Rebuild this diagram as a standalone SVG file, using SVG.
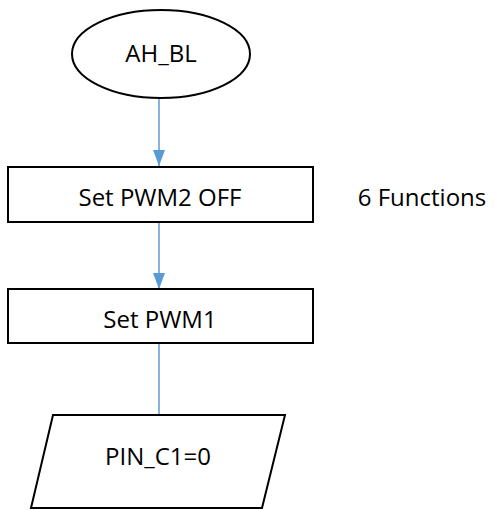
<svg xmlns="http://www.w3.org/2000/svg" width="495" height="510" viewBox="0 0 495 510">
<style>
.s{fill:#fff;stroke:#000;stroke-width:2}
.t{font-family:"Open Sans","Liberation Sans",sans-serif;font-size:24px;fill:#000;text-anchor:middle}
.c{stroke:#5B9BD5;stroke-width:1.5;fill:none}
</style>
<defs>
<marker id="ah" viewBox="0 0 16 12" refX="16" refY="6" markerWidth="16" markerHeight="12" markerUnits="userSpaceOnUse" orient="auto">
<path d="M0,0L16,6L0,12z" fill="#5B9BD5"/>
</marker>
</defs>
<g id="connectors">
<line class="c" x1="159" y1="98" x2="159" y2="166" marker-end="url(#ah)"/>
<line class="c" x1="159" y1="222" x2="159" y2="289" marker-end="url(#ah)"/>
<line class="c" x1="159" y1="343" x2="159" y2="415"/>
</g>
<g id="start">
<ellipse class="s" cx="161" cy="54" rx="89" ry="44"/>
<text class="t" x="161" y="62">AH_BL</text>
</g>
<g id="pwm2">
<rect class="s" x="8" y="167" width="305" height="55"/>
<text class="t" x="160" y="206">Set PWM2 OFF</text>
</g>
<g id="note">
<text class="t" x="422" y="206">6 Functions</text>
</g>
<g id="pwm1">
<rect class="s" x="8" y="289" width="305" height="54"/>
<text class="t" x="160" y="328">Set PWM1</text>
</g>
<g id="pin">
<polygon class="s" points="53,415 285,415 262,508 31,508"/>
<text class="t" x="158" y="465">PIN_C1=0</text>
</g>
</svg>
